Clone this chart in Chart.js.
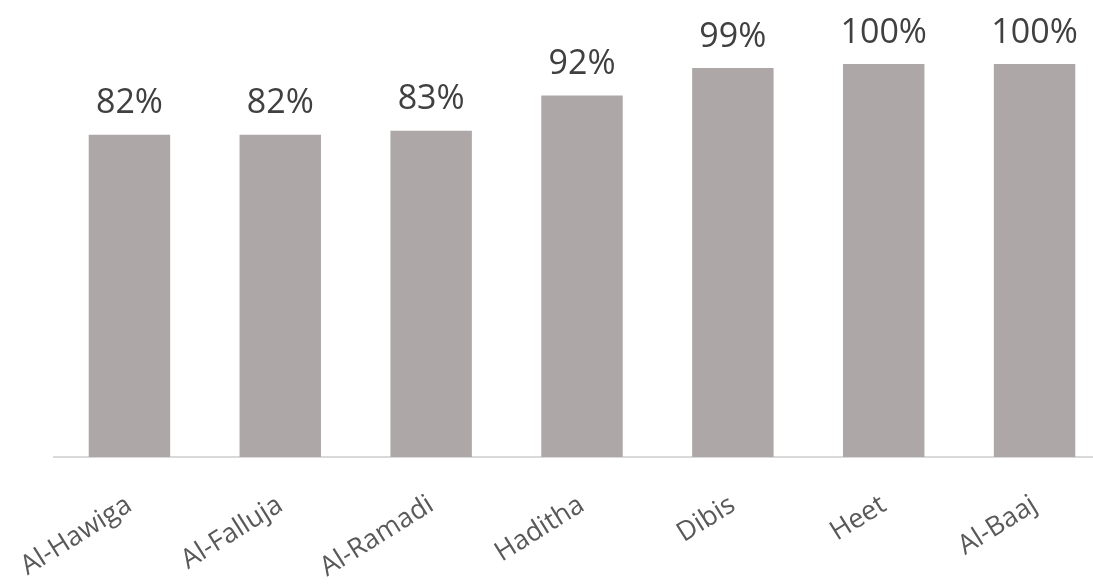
<!DOCTYPE html>
<html>
<head>
<meta charset="utf-8">
<script src="https://cdn.jsdelivr.net/npm/chart.js@4/dist/chart.umd.min.js"></script>
<style>
html,body{margin:0;padding:0;background:#fff;overflow:hidden;}
#wrap{width:1110px;height:585px;}
</style>
</head>
<body>
<div id="wrap"><canvas id="c" width="1110" height="585"></canvas></div>
<script>
const categories = ['Al-Hawiga','Al-Falluja','Al-Ramadi','Haditha','Dibis','Heet','Al-Baaj'];
const values = [0.82, 0.82, 0.83, 0.92, 0.99, 1.00, 1.00];
const valueLabels = ['82%','82%','83%','92%','99%','100%','100%'];

const labelPlugin = {
  id: 'valueLabels',
  afterDatasetsDraw(chart) {
    const ctx = chart.ctx;
    const meta = chart.getDatasetMeta(0);
    ctx.save();
    ctx.font = '34px "Open Sans"';
    ctx.fillStyle = '#404040';
    ctx.textAlign = 'center';
    ctx.textBaseline = 'middle';
    meta.data.forEach((bar, i) => {
      ctx.fillText(valueLabels[i], bar.x, bar.y - 31);
    });
    ctx.restore();
  }
};

new Chart(document.getElementById('c'), {
  type: 'bar',
  data: {
    labels: categories,
    datasets: [{
      data: values,
      backgroundColor: '#ADA8A7',
      barPercentage: 0.54,
      categoryPercentage: 1.0
    }]
  },
  options: {
    responsive: false,
    animation: false,
    events: [],
    layout: { padding: { left: 54, right: 0, top: 64, bottom: 0 } },
    plugins: { legend: { display: false }, tooltip: { enabled: false } },
    scales: {
      y: { display: false, min: 0, max: 1.0 },
      x: {
        grid: { display: false, drawTicks: false },
        border: { display: true, color: '#D9D9D9', width: 2 },
        ticks: {
          color: '#595959',
          font: { family: '"Open Sans"', size: 27 },
          minRotation: 32, maxRotation: 32,
          padding: 32,
          autoSkip: false
        },
        afterFit(scale) {
          scale.height = 128;
          scale.paddingLeft = 0;
          scale.paddingRight = 0;
        }
      }
    }
  },
  plugins: [labelPlugin]
});
</script>
</body>
</html>
